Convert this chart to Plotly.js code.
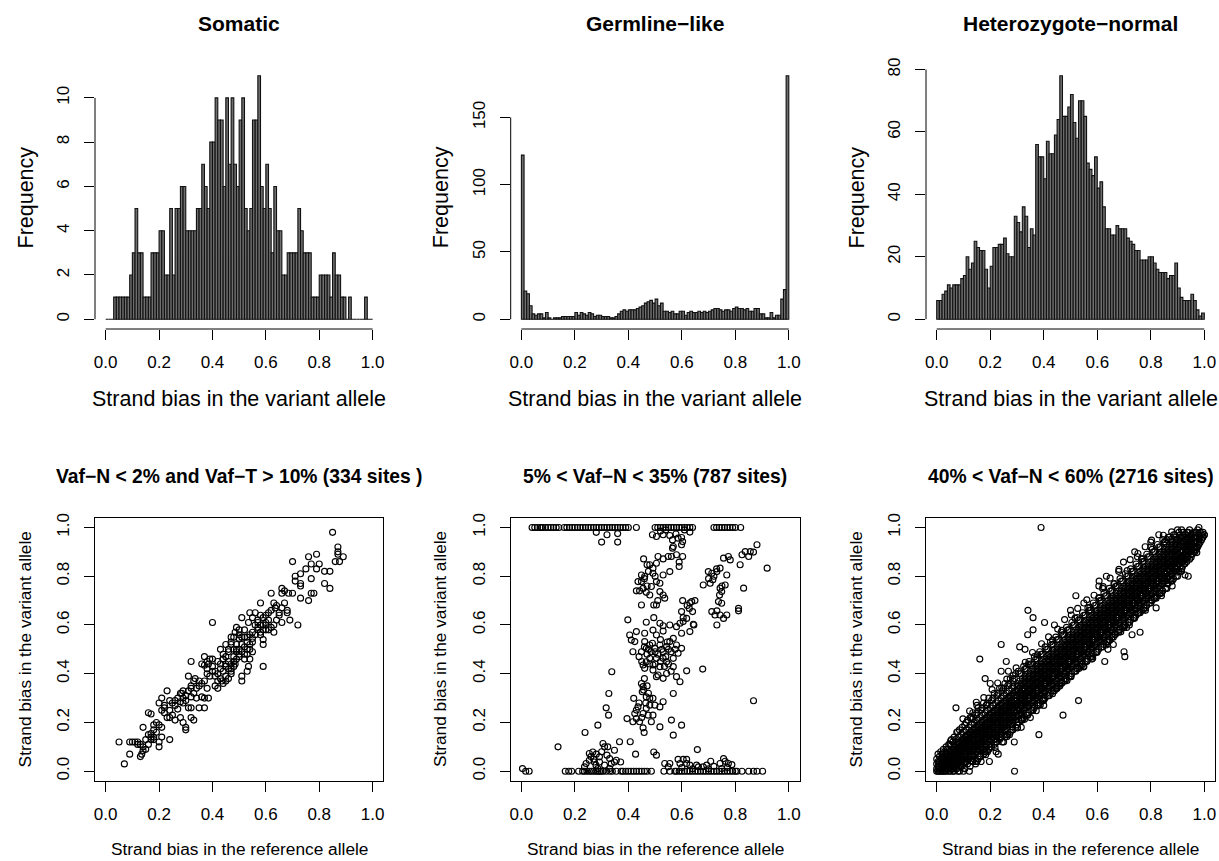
<!DOCTYPE html>
<html><head><meta charset="utf-8">
<script src="https://cdn.plot.ly/plotly-3.0.1.min.js"></script>
<style>html,body{margin:0;padding:0;background:#fff}#chart{width:1219px;height:861px}</style>
</head><body><div id="chart"></div>
<script>
// ---------------- DATA ----------------
const binWidth = 0.01;
const somaticCounts = [0,0,0,1,1,1,1,1,1,2, 3,5,3,3,1,1,1,3,3,3, 4,4,2,2,5,2,5,5,6,6,
  4,4,4,4,5,5,7,6,5,8, 8,10,9,9,6,10,7,10,7,6, 9,10,5,4,5,9,9,11,6,5,
  7,5,3,6,4,4,2,2,3,3, 3,3,5,4,3,3,3,1,1,1, 2,2,2,2,1,3,2,2,1,1, 0,1,0,0,0,0,0,1,0,0];
const germlineCounts = [122,21,19,10,4,3,4,4,1,5, 1,0,1,1,1,2,2,2,2,2, 5,3,5,4,3,5,4,2,3,3,
  2,2,2,1,1,2,4,6,7,6, 7,7,7,8,9,10,12,13,14,12, 15,10,12,6,6,5,6,4,4,6,
  6,3,5,6,5,5,6,5,6,5, 6,7,8,8,7,6,7,7,6,8, 9,8,8,7,8,6,6,8,8,4, 4,1,1,5,1,3,3,15,22,181];
const hetCounts = [6,6,8,9,11,10,11,11,11,13, 14,20,16,18,25,23,22,22,16,10, 17,23,23,24,24,26,21,20,20,33,
  31,28,36,33,23,29,27,56,52,52, 45,57,53,53,59,64,78,65,65,68, 72,63,58,70,70,65,50,48,46,52,
  42,44,36,29,29,27,27,30,29,29, 29,26,25,24,22,22,19,19,19,20, 20,18,16,15,15,15,13,14,14,18, 10,7,6,6,6,8,6,3,1,2];

const xTicks = [0, 0.2, 0.4, 0.6, 0.8, 1];
const xTickText = ['0.0','0.2','0.4','0.6','0.8','1.0'];
const somaticYTicks = [0,2,4,6,8,10];
const germlineYTicks = [0,50,100,150];
const hetYTicks = [0,20,40,60,80];

const histTitles = ['Somatic', 'Germline\u2212like', 'Heterozygote\u2212normal'];
const scatterTitles = ['Vaf\u2212N < 2% and Vaf\u2212T > 10% (334 sites )', '5% < Vaf\u2212N < 35% (787 sites)', '40% < Vaf\u2212N < 60% (2716 sites)'];
const histXLabel = 'Strand bias in the variant allele';
const histYLabel = 'Frequency';
const scatXLabel = 'Strand bias in the reference allele';
const scatYLabel = 'Strand bias in the variant allele';

// Somatic scatter: [reference-allele bias, variant-allele bias]
const somaticPts = [
[0.85,0.98],[0.87,0.92],[0.87,0.90],[0.87,0.89],[0.89,0.88],[0.86,0.86],[0.876,0.86],
[0.76,0.88],[0.79,0.89],[0.70,0.86],[0.75,0.83],[0.77,0.85],[0.80,0.85],[0.79,0.83],[0.82,0.82],[0.84,0.82],
[0.71,0.80],[0.73,0.81],[0.77,0.79],[0.71,0.78],[0.73,0.77],[0.73,0.76],[0.82,0.77],[0.84,0.75],
[0.66,0.75],[0.67,0.74],[0.685,0.73],[0.70,0.73],[0.73,0.71],[0.77,0.73],[0.78,0.73],[0.76,0.70],[0.62,0.73],[0.66,0.73],
[0.63,0.69],[0.64,0.68],[0.635,0.67],[0.62,0.66],[0.65,0.65],[0.68,0.66],[0.68,0.65],[0.69,0.62],[0.66,0.61],[0.72,0.60],[0.58,0.69],
[0.54,0.65],[0.56,0.65],[0.55,0.63],[0.58,0.64],[0.51,0.63],[0.535,0.61],[0.57,0.61],[0.59,0.60],[0.60,0.61],[0.61,0.62],[0.63,0.57],[0.60,0.58],[0.57,0.58],[0.58,0.57],[0.59,0.54],[0.59,0.52],
[0.40,0.61],
[0.49,0.59],[0.485,0.57],[0.50,0.58],[0.47,0.55],[0.47,0.52],[0.50,0.545],[0.52,0.55],[0.53,0.53],[0.54,0.52],[0.55,0.545],[0.45,0.52],[0.43,0.50],[0.44,0.48],[0.46,0.49],[0.48,0.50],[0.49,0.49],[0.50,0.48],[0.52,0.48],[0.53,0.50],[0.54,0.46],[0.55,0.49],[0.535,0.43],[0.53,0.41],[0.51,0.39],[0.51,0.37],[0.59,0.43],[0.485,0.44],[0.47,0.41],[0.46,0.38],[0.45,0.44],[0.44,0.46],[0.43,0.44],[0.42,0.45],[0.40,0.46],[0.39,0.46],[0.38,0.45],[0.37,0.47],[0.36,0.44],[0.38,0.42],[0.40,0.41],[0.41,0.39],[0.42,0.37],[0.41,0.35],[0.42,0.34],[0.435,0.37],[0.45,0.39],[0.47,0.42],[0.48,0.45],
[0.32,0.45],[0.37,0.435],[0.385,0.44],
[0.335,0.38],[0.31,0.39],[0.33,0.37],[0.35,0.37],[0.37,0.37],[0.38,0.34],[0.35,0.35],[0.32,0.34],[0.32,0.35],
[0.23,0.33],[0.21,0.30],[0.20,0.28],[0.22,0.27],[0.24,0.29],[0.26,0.29],[0.28,0.32],[0.285,0.32],[0.29,0.30],[0.30,0.29],[0.32,0.305],[0.34,0.30],[0.36,0.305],[0.37,0.30],[0.385,0.30],[0.37,0.26],[0.35,0.26],[0.32,0.26],[0.31,0.26],[0.29,0.28],[0.28,0.285],[0.27,0.255],[0.25,0.23],[0.24,0.22],[0.23,0.22],[0.26,0.21],[0.28,0.22],[0.29,0.20],[0.32,0.22],[0.33,0.21],[0.30,0.18],[0.30,0.17],[0.21,0.25],[0.22,0.26],
[0.16,0.24],[0.17,0.235],[0.14,0.18],[0.18,0.19],[0.20,0.19],[0.21,0.18],[0.19,0.16],[0.17,0.155],[0.17,0.14],[0.18,0.13],[0.21,0.14],[0.24,0.13],[0.20,0.12],[0.20,0.10],[0.15,0.09],[0.14,0.085],[0.135,0.07],[0.12,0.11],[0.11,0.12],[0.09,0.12],[0.05,0.12],[0.09,0.07],[0.13,0.06],[0.07,0.03],
[0.42,0.40],[0.43,0.42],[0.44,0.41],[0.45,0.43],[0.46,0.45],[0.47,0.44],[0.48,0.47],[0.49,0.46],[0.50,0.50],[0.51,0.52],[0.52,0.51],[0.53,0.55],[0.54,0.56],[0.55,0.57],[0.56,0.56],[0.57,0.59],[0.58,0.60],[0.59,0.58],[0.60,0.60],[0.61,0.58],[0.62,0.59],[0.44,0.46],[0.45,0.47],[0.46,0.42],[0.47,0.40],[0.48,0.43],[0.49,0.52],[0.50,0.47],[0.51,0.49],[0.52,0.46],[0.53,0.48],[0.54,0.50],[0.43,0.38],[0.44,0.36],[0.45,0.37],[0.41,0.41],[0.40,0.43],[0.39,0.39],[0.38,0.40],[0.46,0.50],[0.47,0.53],[0.48,0.55],[0.49,0.50],[0.50,0.56],[0.51,0.55],[0.52,0.58],[0.56,0.60],[0.57,0.62],[0.55,0.53],[0.58,0.56],[0.63,0.60],[0.64,0.62],[0.65,0.64],[0.66,0.67],[0.67,0.69],[0.60,0.64],[0.61,0.65],[0.59,0.63],[0.36,0.36],[0.34,0.34],[0.33,0.32],[0.31,0.33],[0.30,0.31],[0.29,0.33],[0.27,0.30],[0.26,0.27],[0.25,0.28],[0.24,0.25],[0.22,0.24],[0.19,0.20],[0.18,0.17],[0.16,0.15],[0.15,0.13],[0.13,0.11],[0.12,0.12],[0.10,0.12],[0.17,0.13],[0.16,0.11],[0.14,0.10],[0.18,0.14]
];

// Germline-like scatter
const germTopRowRef = [0.04,0.05,0.06,0.07,0.075,0.08,0.09,0.10,0.11,0.12,0.13,0.14,0.16,0.17,0.18,0.19,0.20,0.21,0.22,0.23,0.24,0.25,0.26,0.27,0.28,0.29,0.30,0.31,0.32,0.33,0.34,0.35,0.36,0.37,0.38,0.39,0.40,0.43,
  0.50,0.51,0.52,0.53,0.54,0.55,0.56,0.57,0.58,0.59,0.60,0.61,0.62,0.63,0.64, 0.72,0.73,0.74,0.75,0.76,0.77,0.78,0.79,0.80,0.82];
const germBottomRowRef = [0.016,0.029,0.164,0.177,0.188,0.214,0.229,0.236,0.245,0.254,0.262,0.27,0.279,0.286,0.292,0.298,0.305,0.317,0.33,0.34,0.355,0.373,0.38,0.39,0.40,0.41,0.42,0.43,0.44,0.45,0.46,0.47,0.486,
  0.533,0.555,0.574,0.58,0.59,0.60,0.61,0.62,0.63,0.64,0.65,0.66,0.67,0.68,0.69,0.70,0.71,0.72,0.73,0.74,0.75,0.76,0.77,0.78,0.79,0.80,0.806,0.825,0.85,0.868,0.881,0.902];
const germPts = [
[0.004,0.011],
[0.28,0.98],[0.32,0.97],[0.36,0.975],[0.30,0.94],[0.36,0.94],[0.49,0.97],[0.505,0.963],[0.53,0.97],[0.555,0.967],[0.578,0.973],[0.565,0.949],[0.599,0.959],[0.63,0.981],[0.568,0.922],[0.599,0.929],[0.603,0.942],[0.586,0.956],[0.54,0.99],[0.52,0.985],[0.61,0.99],
[0.457,0.871],[0.47,0.847],[0.48,0.847],[0.505,0.853],[0.492,0.833],[0.511,0.881],[0.53,0.871],[0.549,0.881],[0.561,0.881],[0.58,0.888],[0.603,0.881],[0.565,0.915],[0.59,0.858],[0.59,0.84],[0.555,0.819],[0.53,0.805],[0.449,0.805],[0.461,0.799],[0.492,0.812],[0.505,0.778],[0.518,0.771],[0.449,0.778],[0.436,0.778],[0.43,0.74],[0.442,0.74],[0.467,0.734],[0.486,0.758],[0.518,0.737],[0.53,0.723],[0.536,0.71],[0.505,0.682],[0.495,0.682],[0.449,0.682],[0.48,0.723],[0.47,0.76],[0.46,0.79],[0.50,0.80],[0.475,0.82],[0.455,0.75],[0.51,0.70],
[0.495,0.63],[0.518,0.607],[0.53,0.597],[0.555,0.60],[0.53,0.575],[0.467,0.611],[0.398,0.621],[0.43,0.573],[0.405,0.559],[0.411,0.538],[0.424,0.532],[0.417,0.49],[0.461,0.566],[0.461,0.532],[0.492,0.579],[0.505,0.559],[0.58,0.593],[0.593,0.607],[0.605,0.614],[0.63,0.573],[0.643,0.603],[0.599,0.566],
[0.449,0.49],[0.467,0.504],[0.48,0.518],[0.499,0.504],[0.518,0.518],[0.53,0.49],[0.543,0.511],[0.555,0.532],[0.568,0.545],[0.58,0.518],[0.599,0.504],[0.586,0.484],[0.568,0.463],[0.53,0.463],[0.505,0.463],[0.48,0.463],[0.467,0.449],[0.455,0.436],[0.492,0.436],[0.518,0.429],[0.543,0.449],[0.568,0.429],[0.461,0.422],[0.492,0.415],[0.505,0.388],[0.53,0.381],[0.543,0.401],[0.58,0.388],[0.593,0.367],[0.618,0.412],[0.511,0.395],[0.47,0.48],[0.485,0.49],[0.51,0.48],[0.525,0.50],[0.54,0.47],[0.55,0.50],[0.56,0.49],[0.575,0.50],[0.50,0.44],[0.52,0.45],[0.535,0.43],[0.55,0.44],[0.475,0.50],[0.46,0.51],[0.49,0.525],[0.52,0.54],[0.545,0.53],[0.50,0.49],[0.48,0.44],[0.56,0.41],[0.44,0.47],[0.45,0.45],
[0.603,0.70],[0.637,0.696],[0.649,0.70],[0.628,0.668],[0.64,0.655],[0.599,0.655],[0.618,0.627],[0.645,0.60],[0.605,0.63],[0.62,0.68],[0.63,0.69],
[0.68,0.764],[0.706,0.771],[0.712,0.812],[0.699,0.819],[0.716,0.785],[0.731,0.819],[0.743,0.833],[0.756,0.874],[0.774,0.881],[0.781,0.867],[0.768,0.805],[0.762,0.764],[0.743,0.751],[0.749,0.737],[0.741,0.723],[0.737,0.696],[0.749,0.689],[0.712,0.655],[0.731,0.658],[0.724,0.641],[0.743,0.641],[0.768,0.641],[0.756,0.627],[0.731,0.60],[0.812,0.668],[0.812,0.658],[0.831,0.751],[0.818,0.847],[0.825,0.888],[0.837,0.901],[0.856,0.901],[0.85,0.881],[0.868,0.899],[0.881,0.929],[0.919,0.833],[0.72,0.80],[0.70,0.79],[0.73,0.83],[0.75,0.76],
[0.678,0.419],[0.868,0.289],
[0.449,0.36],[0.455,0.347],[0.452,0.326],[0.457,0.333],[0.467,0.305],[0.48,0.299],[0.492,0.299],[0.499,0.271],[0.48,0.271],[0.467,0.258],[0.455,0.237],[0.436,0.264],[0.43,0.251],[0.424,0.237],[0.43,0.216],[0.417,0.203],[0.442,0.203],[0.455,0.178],[0.459,0.159],[0.474,0.23],[0.492,0.23],[0.486,0.203],[0.518,0.264],[0.53,0.285],[0.518,0.182],[0.568,0.319],[0.561,0.21],[0.599,0.189],[0.568,0.148],[0.42,0.299],[0.395,0.216],[0.46,0.38],[0.47,0.35],[0.44,0.28],[0.45,0.22],[0.465,0.28],[0.475,0.32],
[0.338,0.408],[0.327,0.319],[0.317,0.26],[0.326,0.23],[0.286,0.189],[0.238,0.159],[0.137,0.10],
[0.254,0.073],[0.267,0.079],[0.254,0.045],[0.273,0.038],[0.242,0.032],[0.236,0.018],[0.292,0.059],[0.305,0.114],[0.311,0.10],[0.323,0.10],[0.32,0.066],[0.33,0.052],[0.336,0.032],[0.348,0.038],[0.355,0.045],[0.348,0.086],[0.367,0.121],[0.371,0.038],[0.407,0.121],[0.427,0.07],[0.279,0.025],[0.286,0.011],[0.292,0.038],[0.311,0.025],[0.33,0.011],[0.26,0.06],[0.28,0.07],[0.30,0.08],[0.27,0.05],
[0.495,0.079],[0.505,0.066],[0.536,0.032],[0.555,0.032],[0.549,0.018],[0.586,0.049],[0.593,0.032],[0.605,0.049],[0.618,0.049],[0.618,0.032],[0.63,0.025],[0.655,0.025],[0.662,0.018],[0.658,0.089],[0.68,0.018],[0.693,0.025],[0.708,0.041],[0.743,0.032],[0.756,0.052],[0.762,0.041],[0.774,0.032],[0.787,0.027],[0.749,0.011],[0.72,0.02],[0.60,0.015],[0.64,0.01],[0.70,0.01],[0.77,0.015]
];

// Heterozygote-normal scatter: dense band read column by column (reference bias -> variant biases)
const hetColRef = [0.00,0.01,0.02,0.03,0.04,0.05,0.06,0.07,0.08,0.09,0.10,0.11,0.12,0.13,0.14,0.15,0.16,0.17,0.18,0.19,
  0.20,0.21,0.22,0.23,0.24,0.25,0.26,0.27,0.28,0.29,0.30,0.31,0.32,0.33,0.34,0.35,0.36,0.37,0.38,0.39,
  0.40,0.41,0.42,0.43,0.44,0.45,0.46,0.47,0.48,0.49,0.50,0.51,0.52,0.53,0.54,0.55,0.56,0.57,0.58,0.59,
  0.60,0.61,0.62,0.63,0.64,0.65,0.66,0.67,0.68,0.69,0.70,0.71,0.72,0.73,0.74,0.75,0.76,0.77,0.78,0.79,
  0.80,0.81,0.82,0.83,0.84,0.85,0.86,0.87,0.88,0.89,0.90,0.91,0.92,0.93,0.94,0.95,0.96,0.97,0.98,0.99,1.00];
const hetColVar = [
[0.00,0.01,0.03,0.05],[0.00,0.02,0.04,0.01,0.06],[0.01,0.03,0.00,0.05,0.07,0.02],[0.02,0.00,0.04,0.06,0.03,0.08],[0.01,0.03,0.05,0.07,0.02,0.09,0.04],
[0.02,0.04,0.06,0.00,0.08,0.11,0.05],[0.03,0.05,0.01,0.07,0.09,0.12,0.04],[0.02,0.04,0.06,0.08,0.10,0.13,0.05,0.01],[0.03,0.05,0.07,0.09,0.11,0.14,0.06,0.00],[0.04,0.06,0.08,0.10,0.12,0.02,0.15,0.09],
[0.05,0.07,0.09,0.11,0.13,0.03,0.16,0.12],[0.06,0.08,0.10,0.12,0.14,0.04,0.17,0.20],[0.07,0.09,0.11,0.13,0.15,0.05,0.18,0.10],[0.06,0.08,0.10,0.12,0.14,0.16,0.19,0.22],[0.07,0.09,0.11,0.13,0.15,0.17,0.20,0.05],
[0.08,0.10,0.12,0.14,0.16,0.18,0.21,0.24],[0.09,0.11,0.13,0.15,0.17,0.19,0.22,0.06],[0.10,0.12,0.14,0.16,0.18,0.20,0.23,0.26],[0.11,0.13,0.15,0.17,0.19,0.21,0.24,0.08],[0.12,0.14,0.16,0.18,0.20,0.22,0.25,0.28],
[0.13,0.15,0.17,0.19,0.21,0.23,0.26,0.10],[0.14,0.16,0.18,0.20,0.22,0.24,0.27,0.30],[0.15,0.17,0.19,0.21,0.23,0.25,0.28,0.12],[0.16,0.18,0.20,0.22,0.24,0.26,0.29,0.32],[0.17,0.19,0.21,0.23,0.25,0.27,0.30,0.14],
[0.18,0.20,0.22,0.24,0.26,0.28,0.31,0.34],[0.19,0.21,0.23,0.25,0.27,0.29,0.32,0.15],[0.20,0.22,0.24,0.26,0.28,0.30,0.33,0.36],[0.21,0.23,0.25,0.27,0.29,0.31,0.34,0.17],[0.22,0.24,0.26,0.28,0.30,0.32,0.35,0.38],
[0.23,0.25,0.27,0.29,0.31,0.33,0.36,0.19],[0.24,0.26,0.28,0.30,0.32,0.34,0.37,0.40],[0.25,0.27,0.29,0.31,0.33,0.35,0.38,0.21],[0.26,0.28,0.30,0.32,0.34,0.36,0.39,0.42],[0.27,0.29,0.31,0.33,0.35,0.37,0.40,0.23],
[0.28,0.30,0.32,0.34,0.36,0.38,0.41,0.44],[0.29,0.31,0.33,0.35,0.37,0.39,0.42,0.25],[0.30,0.32,0.34,0.36,0.38,0.40,0.43,0.46],[0.31,0.33,0.35,0.37,0.39,0.41,0.44,0.27],[0.32,0.34,0.36,0.38,0.40,0.42,0.45,0.48],
[0.33,0.35,0.37,0.39,0.41,0.43,0.46,0.29],[0.34,0.36,0.38,0.40,0.42,0.44,0.47,0.50],[0.35,0.37,0.39,0.41,0.43,0.45,0.48,0.31],[0.36,0.38,0.40,0.42,0.44,0.46,0.49,0.52],[0.37,0.39,0.41,0.43,0.45,0.47,0.50,0.33],
[0.38,0.40,0.42,0.44,0.46,0.48,0.51,0.54],[0.39,0.41,0.43,0.45,0.47,0.49,0.52,0.35],[0.40,0.42,0.44,0.46,0.48,0.50,0.53,0.56],[0.41,0.43,0.45,0.47,0.49,0.51,0.54,0.37],[0.42,0.44,0.46,0.48,0.50,0.52,0.55,0.58],
[0.43,0.45,0.47,0.49,0.51,0.53,0.56,0.39],[0.44,0.46,0.48,0.50,0.52,0.54,0.57,0.60],[0.45,0.47,0.49,0.51,0.53,0.55,0.58,0.41],[0.46,0.48,0.50,0.52,0.54,0.56,0.59,0.62],[0.47,0.49,0.51,0.53,0.55,0.57,0.60,0.43],
[0.48,0.50,0.52,0.54,0.56,0.58,0.61,0.64],[0.49,0.51,0.53,0.55,0.57,0.59,0.62,0.45],[0.50,0.52,0.54,0.56,0.58,0.60,0.63,0.66],[0.51,0.53,0.55,0.57,0.59,0.61,0.64,0.47],[0.52,0.54,0.56,0.58,0.60,0.62,0.65,0.68],
[0.53,0.55,0.57,0.59,0.61,0.63,0.66,0.49],[0.54,0.56,0.58,0.60,0.62,0.64,0.67,0.70],[0.55,0.57,0.59,0.61,0.63,0.65,0.68,0.51],[0.56,0.58,0.60,0.62,0.64,0.66,0.69,0.72],[0.57,0.59,0.61,0.63,0.65,0.67,0.70,0.53],
[0.58,0.60,0.62,0.64,0.66,0.68,0.71,0.74],[0.59,0.61,0.63,0.65,0.67,0.69,0.72,0.55],[0.60,0.62,0.64,0.66,0.68,0.70,0.73,0.76],[0.61,0.63,0.65,0.67,0.69,0.71,0.74,0.57],[0.62,0.64,0.66,0.68,0.70,0.72,0.75,0.78],
[0.63,0.65,0.67,0.69,0.71,0.73,0.76,0.59],[0.64,0.66,0.68,0.70,0.72,0.74,0.77,0.80],[0.65,0.67,0.69,0.71,0.73,0.75,0.78,0.61],[0.66,0.68,0.70,0.72,0.74,0.76,0.79,0.82],[0.67,0.69,0.71,0.73,0.75,0.77,0.80,0.63],
[0.68,0.70,0.72,0.74,0.76,0.78,0.81,0.84],[0.69,0.71,0.73,0.75,0.77,0.79,0.82,0.65],[0.70,0.72,0.74,0.76,0.78,0.80,0.83,0.86],[0.71,0.73,0.75,0.77,0.79,0.81,0.84,0.67],[0.72,0.74,0.76,0.78,0.80,0.82,0.85,0.88],
[0.73,0.75,0.77,0.79,0.81,0.83,0.86,0.69],[0.74,0.76,0.78,0.80,0.82,0.84,0.87,0.90],[0.75,0.77,0.79,0.81,0.83,0.85,0.88,0.71],[0.76,0.78,0.80,0.82,0.84,0.86,0.89,0.92],[0.77,0.79,0.81,0.83,0.85,0.87,0.90,0.73],
[0.78,0.80,0.82,0.84,0.86,0.88,0.91,0.94],[0.79,0.81,0.83,0.85,0.87,0.89,0.92,0.75],[0.80,0.82,0.84,0.86,0.88,0.90,0.93,0.96],[0.81,0.83,0.85,0.87,0.89,0.91,0.94,0.78],[0.82,0.84,0.86,0.88,0.90,0.92,0.95,0.97],
[0.83,0.85,0.87,0.89,0.91,0.93,0.95,0.80],[0.84,0.86,0.88,0.90,0.92,0.94,0.96],[0.86,0.88,0.90,0.92,0.94,0.96,0.98],[0.87,0.89,0.91,0.93,0.95,0.97,0.90],[0.88,0.90,0.92,0.94,0.96,0.98],
[0.89,0.91,0.93,0.95,0.97,0.92],[0.90,0.92,0.94,0.96,0.98],[0.92,0.94,0.96,0.98],[0.93,0.95,0.97],[0.95,0.97],[0.97]
];
// second, offset set of columns of the same band (between the columns above)
const hetColRef2 = [0.005,0.015,0.025,0.035,0.045,0.055,0.065,0.075,0.085,0.095,0.105,0.115,0.125,0.135,0.145,0.155,0.165,0.175,0.185,0.195,
  0.205,0.215,0.225,0.235,0.245,0.255,0.265,0.275,0.285,0.295,0.305,0.315,0.325,0.335,0.345,0.355,0.365,0.375,0.385,0.395,
  0.405,0.415,0.425,0.435,0.445,0.455,0.465,0.475,0.485,0.495,0.505,0.515,0.525,0.535,0.545,0.555,0.565,0.575,0.585,0.595,
  0.605,0.615,0.625,0.635,0.645,0.655,0.665,0.675,0.685,0.695,0.705,0.715,0.725,0.735,0.745,0.755,0.765,0.775,0.785,0.795,
  0.805,0.815,0.825,0.835,0.845,0.855,0.865,0.875,0.885,0.895,0.905,0.915,0.925,0.935,0.945,0.955,0.965,0.975,0.985,0.995];
const hetColVar2 = [
[0.00,0.02,0.04,0.07],[0.00,0.01,0.03,0.05,0.08],[0.00,0.02,0.04,0.06,0.09],[0.01,0.03,0.05,0.07,0.10,0.00],[0.00,0.02,0.04,0.06,0.08,0.11],
[0.01,0.03,0.05,0.07,0.09,0.13],[0.00,0.02,0.04,0.06,0.08,0.10,0.14],[0.01,0.03,0.05,0.07,0.09,0.11,0.16],[0.00,0.04,0.06,0.08,0.10,0.12,0.17],[0.02,0.05,0.07,0.09,0.11,0.13,0.18],
[0.01,0.04,0.08,0.10,0.12,0.14,0.19],[0.03,0.05,0.09,0.11,0.13,0.15,0.21],[0.02,0.06,0.10,0.12,0.14,0.16,0.22],[0.04,0.07,0.09,0.13,0.15,0.17,0.24],[0.03,0.08,0.10,0.12,0.16,0.18,0.23],
[0.05,0.09,0.11,0.13,0.17,0.19,0.26],[0.06,0.10,0.12,0.14,0.16,0.20,0.25],[0.07,0.09,0.13,0.15,0.17,0.21,0.28],[0.08,0.10,0.14,0.16,0.18,0.22,0.27],[0.09,0.11,0.15,0.17,0.19,0.23,0.30],
[0.10,0.12,0.14,0.18,0.20,0.24,0.29],[0.11,0.13,0.15,0.19,0.21,0.25,0.32],[0.12,0.14,0.16,0.20,0.22,0.26,0.31],[0.13,0.15,0.17,0.21,0.23,0.27,0.34],[0.12,0.16,0.18,0.22,0.24,0.28,0.33],
[0.14,0.17,0.19,0.23,0.25,0.29,0.36],[0.15,0.18,0.20,0.24,0.26,0.30,0.35],[0.16,0.19,0.21,0.25,0.27,0.31,0.38],[0.17,0.20,0.22,0.26,0.28,0.32,0.37],[0.18,0.21,0.23,0.27,0.29,0.33,0.40],
[0.20,0.23,0.26,0.28,0.33,0.35,0.41],[0.21,0.24,0.27,0.30,0.32,0.36,0.40],[0.22,0.25,0.29,0.31,0.34,0.37,0.43],[0.23,0.26,0.28,0.32,0.35,0.38,0.42],[0.24,0.27,0.30,0.33,0.36,0.39,0.45],
[0.25,0.28,0.32,0.34,0.37,0.40,0.44],[0.26,0.29,0.31,0.35,0.38,0.41,0.47],[0.27,0.30,0.33,0.36,0.39,0.42,0.46],[0.28,0.31,0.35,0.37,0.40,0.43,0.49],[0.29,0.32,0.34,0.38,0.41,0.44,0.48],
[0.30,0.33,0.36,0.39,0.42,0.45,0.51],[0.31,0.34,0.38,0.40,0.43,0.46,0.50],[0.32,0.35,0.37,0.41,0.44,0.47,0.53],[0.33,0.36,0.39,0.42,0.45,0.48,0.52],[0.34,0.37,0.41,0.43,0.46,0.49,0.55],
[0.35,0.38,0.40,0.44,0.47,0.50,0.54],[0.36,0.39,0.42,0.45,0.48,0.51,0.57],[0.37,0.40,0.44,0.46,0.49,0.52,0.56],[0.38,0.41,0.43,0.47,0.50,0.53,0.59],[0.39,0.42,0.45,0.48,0.51,0.54,0.58],
[0.40,0.43,0.47,0.49,0.52,0.55,0.61],[0.41,0.44,0.46,0.50,0.53,0.56,0.60],[0.42,0.45,0.48,0.51,0.54,0.57,0.63],[0.43,0.46,0.50,0.52,0.55,0.58,0.62],[0.44,0.47,0.49,0.53,0.56,0.59,0.65],
[0.45,0.48,0.51,0.54,0.57,0.60,0.64],[0.46,0.49,0.53,0.55,0.58,0.61,0.67],[0.47,0.50,0.52,0.56,0.59,0.62,0.66],[0.48,0.51,0.54,0.57,0.60,0.63,0.69],[0.49,0.52,0.56,0.58,0.61,0.64,0.68],
[0.50,0.53,0.55,0.59,0.62,0.65,0.71],[0.51,0.54,0.57,0.60,0.63,0.66,0.70],[0.52,0.55,0.59,0.61,0.64,0.67,0.73],[0.53,0.56,0.58,0.62,0.65,0.68,0.72],[0.54,0.57,0.60,0.63,0.66,0.69,0.75],
[0.55,0.58,0.62,0.64,0.67,0.70,0.74],[0.56,0.59,0.61,0.65,0.68,0.71,0.77],[0.57,0.60,0.63,0.66,0.69,0.72,0.76],[0.58,0.61,0.65,0.67,0.70,0.73,0.79],[0.59,0.62,0.64,0.68,0.71,0.74,0.78],
[0.60,0.63,0.66,0.69,0.72,0.75,0.81],[0.61,0.64,0.68,0.70,0.73,0.76,0.80],[0.62,0.65,0.67,0.71,0.74,0.77,0.83],[0.63,0.66,0.69,0.72,0.75,0.78,0.82],[0.64,0.67,0.71,0.73,0.76,0.79,0.85],
[0.65,0.68,0.70,0.74,0.77,0.80,0.84],[0.66,0.69,0.72,0.75,0.78,0.81,0.87],[0.67,0.70,0.74,0.76,0.79,0.82,0.86],[0.68,0.71,0.73,0.77,0.80,0.83,0.89],[0.69,0.72,0.75,0.78,0.81,0.84,0.88],
[0.70,0.73,0.77,0.79,0.82,0.85,0.91],[0.71,0.74,0.76,0.80,0.83,0.86,0.90],[0.72,0.75,0.78,0.81,0.84,0.87,0.93],[0.73,0.76,0.80,0.82,0.85,0.88,0.92],[0.74,0.77,0.79,0.83,0.86,0.89,0.95],
[0.75,0.78,0.81,0.84,0.87,0.90,0.94],[0.77,0.80,0.83,0.85,0.88,0.91,0.96],[0.78,0.81,0.84,0.86,0.89,0.92,0.95],[0.79,0.82,0.85,0.87,0.90,0.93,0.97],[0.80,0.83,0.86,0.88,0.91,0.94,0.96],
[0.82,0.85,0.87,0.89,0.92,0.95,0.98],[0.83,0.86,0.88,0.90,0.93,0.96,0.99],[0.85,0.87,0.89,0.92,0.94,0.97],[0.86,0.88,0.91,0.93,0.95,0.98],[0.87,0.90,0.92,0.94,0.96,0.99],
[0.89,0.91,0.93,0.95,0.97],[0.90,0.92,0.94,0.96,0.98],[0.92,0.94,0.96,0.99],[0.94,0.96,0.98],[0.96,0.98]
];
// scattered rings along both edges of the band
const hetFringe = [
[0.052,0.125],[0.098,0.215],[0.123,0.247],[0.148,0.283],[0.176,0.302],[0.207,0.335],[0.228,0.362],[0.262,0.378],[0.297,0.424],[0.331,0.447],[0.358,0.487],[0.392,0.523],[0.418,0.551],[0.452,0.583],[0.478,0.622],[0.503,0.641],[0.527,0.668],[0.561,0.703],[0.588,0.722],[0.622,0.757],[0.648,0.792],[0.681,0.828],[0.698,0.858],[0.723,0.868],[0.752,0.893],[0.779,0.921],[0.803,0.948],[0.847,0.968],[0.878,0.982],
[0.103,0.012],[0.151,0.042],[0.183,0.068],[0.218,0.097],[0.262,0.142],[0.302,0.178],[0.328,0.213],[0.372,0.248],[0.398,0.297],[0.433,0.318],[0.468,0.362],[0.502,0.388],[0.531,0.421],[0.562,0.452],[0.598,0.487],[0.633,0.518],[0.668,0.562],[0.702,0.598],[0.738,0.627],[0.772,0.662],[0.801,0.703],[0.832,0.728],[0.862,0.768],[0.898,0.817],[0.928,0.852],[0.951,0.878],[0.972,0.897],
[0.078,0.162],[0.135,0.215],[0.187,0.272],[0.243,0.342],[0.285,0.392],[0.342,0.438],[0.377,0.478],[0.433,0.538],[0.468,0.578],[0.517,0.628],[0.572,0.672],[0.608,0.712],[0.662,0.768],[0.712,0.823],[0.767,0.872],
[0.128,0.043],[0.173,0.088],[0.238,0.137],[0.283,0.182],[0.318,0.232],[0.387,0.272],[0.447,0.338],[0.487,0.372],[0.548,0.428],[0.583,0.463],[0.647,0.537],[0.688,0.572],[0.752,0.648],[0.812,0.712],[0.872,0.787],[0.918,0.838]
];
const hetOutliers = [
[0.39,1.0],[0.072,0.26],[0.161,0.46],[0.181,0.38],[0.241,0.52],[0.341,0.66],[0.36,0.63],[0.34,0.56],[0.36,0.58],[0.403,0.61],[0.31,0.51],[0.241,0.41],[0.268,0.41],[0.382,0.15],[0.291,0.0],[0.122,0.0],[0.472,0.23],[0.53,0.29],[0.52,0.72],[0.703,0.47],[0.70,0.49],[0.628,0.45],[0.73,0.56],[0.76,0.57],[0.71,0.59],[0.82,0.67],[0.94,0.80],[0.928,0.805],[0.915,0.82],[1.0,0.97],[0.98,1.0],[0.97,0.91],[0.97,0.92],[0.83,0.97],[0.80,0.94],[0.74,0.90],[0.607,0.78],[0.634,0.80],[0.606,0.76],[0.316,0.18],[0.29,0.12],[0.272,0.15],[0.318,0.21],[0.23,0.07],[0.222,0.08],[0.197,0.04],[0.166,0.04],[0.147,0.04],[0.085,0.025],
[0.20,0.36],[0.15,0.27],[0.26,0.45],[0.33,0.50],[0.44,0.60],[0.50,0.66],[0.55,0.69],[0.62,0.75],[0.68,0.82],[0.75,0.88],[0.80,0.92],[0.86,0.95],[0.90,0.99],[0.55,0.43],[0.58,0.46],[0.64,0.50],[0.66,0.52],[0.72,0.60],[0.78,0.66],[0.84,0.72],[0.88,0.76],[0.45,0.34],[0.40,0.27],[0.35,0.22],[0.25,0.12],[0.19,0.08],[0.10,0.00],[0.06,0.00]
];

// ---------------- BUILD ----------------
const FONT = 'Liberation Sans, Arial, Helvetica, sans-serif';
const W = 1219, H = 861;
const colsPx = [[95, 383.3], [510.7, 799.5], [926, 1215]];
const rowTopPx = [66, 329], rowBotPx = [517.7, 781];
const dx = p => [p[0]/W, p[1]/W];
const dy = p => [1 - p[1]/H, 1 - p[0]/H];

const binCenters = somaticCounts.map((_, i) => (i + 0.5) * binWidth);
const histData = [somaticCounts, germlineCounts, hetCounts];
const histYTicks = [somaticYTicks, germlineYTicks, hetYTicks];

const traces = [];
histData.forEach((counts, k) => {
  traces.push({
    type: 'bar', x: binCenters, y: counts, width: binWidth,
    xaxis: 'x' + (k === 0 ? '' : k + 1), yaxis: 'y' + (k === 0 ? '' : k + 1),
    marker: {color: '#6e6e6e', line: {color: '#111', width: 1.1}},
    hoverinfo: 'skip'
  });
});

const marker = {symbol: 'circle-open', size: 6, color: '#000', line: {width: 1.15, color: '#000'}};
const hetX = [], hetY = [];
hetColRef.forEach((x, i) => hetColVar[i].forEach(y => { hetX.push(x); hetY.push(y); }));
hetColRef2.forEach((x, i) => hetColVar2[i].forEach(y => { hetX.push(x); hetY.push(y); }));
hetFringe.forEach(p => { hetX.push(p[0]); hetY.push(p[1]); });
hetOutliers.forEach(p => { hetX.push(p[0]); hetY.push(p[1]); });
const germX = [], germY = [];
germTopRowRef.forEach(x => { germX.push(x); germY.push(1); });
germBottomRowRef.forEach(x => { germX.push(x); germY.push(0); });
germPts.forEach(p => { germX.push(p[0]); germY.push(p[1]); });

const scat = [
  [somaticPts.map(p => p[0]), somaticPts.map(p => p[1])],
  [germX, germY],
  [hetX, hetY]
];
scat.forEach((s, k) => {
  traces.push({
    type: 'scatter', mode: 'markers', x: s[0], y: s[1],
    xaxis: 'x' + (k + 4), yaxis: 'y' + (k + 4), marker: marker, hoverinfo: 'skip'
  });
});

const tickFont = {family: FONT, size: 17, color: '#000'};
const layout = {
  width: W, height: H, margin: {l: 0, r: 0, t: 0, b: 0},
  paper_bgcolor: '#fff', plot_bgcolor: '#fff', showlegend: false, bargap: 0,
  shapes: [], annotations: []
};
for (let k = 0; k < 3; k++) {
  const xs = k === 0 ? '' : String(k + 1);
  const maxC = Math.max(...histData[k]);
  const yt = histYTicks[k];
  layout['xaxis' + xs] = {
    domain: dx(colsPx[k]), anchor: 'y' + xs, range: [-0.04, 1.04],
    tickvals: xTicks, ticktext: xTickText, ticks: 'outside', ticklen: 10, tickwidth: 1, tickcolor: '#000',
    showline: false, showgrid: false, zeroline: false, tickfont: tickFont, ticklabelstandoff: 8
  };
  layout['yaxis' + xs] = {
    domain: dy(rowTopPx), anchor: 'x' + xs, range: [-0.04 * maxC, 1.04 * maxC],
    tickvals: yt, ticktext: yt.map(String), tickangle: -90, ticks: 'outside', ticklen: 10, tickwidth: 1, tickcolor: '#000',
    showline: false, showgrid: false, zeroline: false, tickfont: tickFont, ticklabelstandoff: 8
  };
  layout.shapes.push({type: 'line', xref: 'x' + xs, yref: 'paper', x0: xTicks[0], x1: xTicks[xTicks.length - 1],
    y0: dy(rowTopPx)[0], y1: dy(rowTopPx)[0], line: {color: '#000', width: 1}});
  layout.shapes.push({type: 'line', xref: 'paper', yref: 'y' + xs, x0: dx(colsPx[k])[0], x1: dx(colsPx[k])[0],
    y0: yt[0], y1: yt[yt.length - 1], line: {color: '#000', width: 1}});

  const bs = String(k + 4);
  layout['xaxis' + bs] = {
    domain: dx(colsPx[k]), anchor: 'y' + bs, range: [-0.04, 1.04],
    tickvals: xTicks, ticktext: xTickText, ticks: 'outside', ticklen: 10, tickwidth: 1, tickcolor: '#000',
    showline: true, mirror: true, linecolor: '#000', linewidth: 1,
    showgrid: false, zeroline: false, tickfont: tickFont, ticklabelstandoff: 8
  };
  layout['yaxis' + bs] = {
    domain: dy(rowBotPx), anchor: 'x' + bs, range: [-0.04, 1.04],
    tickvals: xTicks, ticktext: xTickText, tickangle: -90, ticks: 'outside', ticklen: 10, tickwidth: 1, tickcolor: '#000',
    showline: true, mirror: true, linecolor: '#000', linewidth: 1,
    showgrid: false, zeroline: false, tickfont: tickFont, ticklabelstandoff: 8
  };

  const cx = (colsPx[k][0] + colsPx[k][1]) / 2 / W;
  const yLabX = (colsPx[k][0] - 70) / W;
  layout.annotations.push(
    {text: '<b>' + histTitles[k] + '</b>', xref: 'paper', yref: 'paper', x: cx, y: 1 - 23.3 / H, xanchor: 'center', yanchor: 'middle', showarrow: false, font: {family: FONT, size: 21, color: '#000'}},
    {text: histXLabel, xref: 'paper', yref: 'paper', x: cx, y: 1 - 399.3 / H, xanchor: 'center', yanchor: 'middle', showarrow: false, font: {family: FONT, size: 21.5, color: '#000'}},
    {text: histYLabel, xref: 'paper', yref: 'paper', x: yLabX, y: 1 - 197.5 / H, textangle: -90, xanchor: 'center', yanchor: 'middle', showarrow: false, font: {family: FONT, size: 21.5, color: '#000'}},
    {text: '<b>' + scatterTitles[k] + '</b>', xref: 'paper', yref: 'paper', x: cx, y: 1 - 476.7 / H, xanchor: 'center', yanchor: 'middle', showarrow: false, font: {family: FONT, size: 19.3, color: '#000'}},
    {text: scatXLabel, xref: 'paper', yref: 'paper', x: cx, y: 0.001, xanchor: 'center', yanchor: 'bottom', borderpad: 0, showarrow: false, font: {family: FONT, size: 17.3, color: '#000'}},
    {text: scatYLabel, xref: 'paper', yref: 'paper', x: yLabX, y: 1 - 649.4 / H, textangle: -90, xanchor: 'center', yanchor: 'middle', showarrow: false, font: {family: FONT, size: 17.3, color: '#000'}}
  );
}

Plotly.newPlot('chart', traces, layout, {staticPlot: true, displayModeBar: false});
</script>
</body></html>
